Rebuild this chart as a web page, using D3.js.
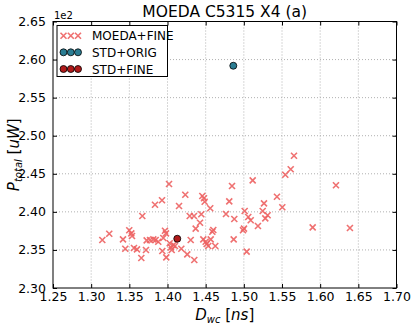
<!DOCTYPE html>
<html>
<head>
<meta charset="utf-8">
<script src="https://cdn.jsdelivr.net/npm/d3@7"></script>
<style>
  body { margin: 0; background: #fff; }
  text { font-family: "DejaVu Sans", sans-serif; }
</style>
</head>
<body>
<svg id="chart" width="415" height="325"></svg>
<script>
// data (Dwc in ns, Ptotal in uW)
const moedaX = [1.3146, 1.3237, 1.3417, 1.3447, 1.3499, 1.3526, 1.3535, 1.3561, 1.3600, 1.3657,
  1.3670, 1.3718, 1.3727, 1.3771, 1.3814, 1.3836, 1.3845, 1.3879, 1.3928, 1.3932,
  1.3945, 1.3967, 1.3980, 1.3984, 1.4020, 1.4029, 1.4046, 1.4055, 1.4076, 1.4098,
  1.4181, 1.4151, 1.4233, 1.4259, 1.4291, 1.4304, 1.4347, 1.4351, 1.4369, 1.4426,
  1.4443, 1.4456, 1.4478, 1.4487, 1.4469, 1.4500, 1.4513, 1.4534, 1.4560, 1.4566,
  1.4587, 1.4600, 1.4626, 1.4766, 1.4809, 1.5657, 1.5614, 1.5543, 1.5116, 1.4845,
  1.6207, 1.5434, 1.5264, 1.5504, 1.5011, 1.5247, 1.5312, 1.5058, 1.4875, 1.5090,
  1.5281, 1.5185, 1.5902, 1.6390, 1.5002, 1.4989, 1.4867, 1.5037]
const moedaY = [236.30, 237.13, 236.39, 235.16, 237.58, 237.18, 236.83, 235.25, 235.08, 233.94,
  239.45, 234.99, 236.26, 236.30, 236.39, 240.94, 236.30, 236.08, 241.52, 234.86,
  236.57, 237.52, 237.18, 234.03, 243.66, 235.87, 235.34, 234.99, 235.64, 235.51,
  235.16, 240.77, 242.25, 234.42, 239.45, 236.30, 239.45, 233.68, 237.79, 238.57,
  239.68, 242.08, 241.78, 241.33, 236.39, 236.08, 235.78, 235.51, 240.47, 236.39,
  237.39, 237.62, 235.51, 239.72, 241.38, 247.37, 245.59, 244.88, 244.14, 243.39,
  243.49, 241.99, 241.12, 240.60, 240.11, 240.11, 239.55, 239.32, 239.06, 238.89,
  239.15, 238.14, 237.97, 237.88, 237.79, 237.58, 236.39, 234.77]
const stdOrigX = [1.4862]
const stdOrigY = [259.19]
const stdFineX = [1.4128]
const stdFineY = [236.47]

const xTicks = [1.25, 1.30, 1.35, 1.40, 1.45, 1.50, 1.55, 1.60, 1.65, 1.70]
const yTicks = [230, 235, 240, 245, 250, 255, 260, 265]
const legendNames = ['MOEDA+FINE', 'STD+ORIG', 'STD+FINE']

const svg = d3.select('#chart')
const mLeft = 53, mRight = 396.5, mTop = 21.5, mBottom = 288

const x = d3.scaleLinear().domain([1.25, 1.70]).range([mLeft, mRight])
const y = d3.scaleLinear().domain([230, 265]).range([mBottom, mTop])

// grid (dotted, like old matplotlib)
const grid = svg.append('g')
grid.selectAll('line.vx').data(xTicks.slice(1, -1)).enter().append('line')
  .attr('x1', d => x(d)).attr('x2', d => x(d))
  .attr('y1', mTop).attr('y2', mBottom)
  .attr('stroke', '#b0b0b0').attr('stroke-width', 1).attr('stroke-dasharray', '1,2')
grid.selectAll('line.hy').data(yTicks.slice(1, -1)).enter().append('line')
  .attr('y1', d => y(d)).attr('y2', d => y(d))
  .attr('x1', mLeft).attr('x2', mRight)
  .attr('stroke', '#b0b0b0').attr('stroke-width', 1).attr('stroke-dasharray', '1,2')

// axes, ticks inside on all sides
const fmtX = d3.format('.2f')
const fmtY = d => (d / 100).toFixed(2)
svg.append('g').attr('transform', `translate(0,${mBottom})`)
  .call(d3.axisBottom(x).tickValues(xTicks).tickFormat(fmtX).tickSizeInner(-4).tickSizeOuter(0).tickPadding(4))
svg.append('g').attr('transform', `translate(0,${mTop})`)
  .call(d3.axisTop(x).tickValues(xTicks).tickFormat('').tickSizeInner(-4).tickSizeOuter(0))
svg.append('g').attr('transform', `translate(${mLeft},0)`)
  .call(d3.axisLeft(y).tickValues(yTicks).tickFormat(fmtY).tickSizeInner(-4).tickSizeOuter(0).tickPadding(7))
svg.append('g').attr('transform', `translate(${mRight},0)`)
  .call(d3.axisRight(y).tickValues(yTicks).tickFormat('').tickSizeInner(-4).tickSizeOuter(0))
svg.selectAll('.domain').remove()
svg.selectAll('.tick text').attr('font-size', 12.5).attr('fill', '#000')
  .attr('font-family', '"DejaVu Sans", sans-serif')
svg.selectAll('.tick line').attr('stroke', '#000')

// frame
svg.append('rect').attr('x', mLeft).attr('y', mTop)
  .attr('width', mRight - mLeft).attr('height', mBottom - mTop)
  .attr('fill', 'none').attr('stroke', '#000').attr('stroke-width', 1)

// offset text
svg.append('text').attr('x', mLeft + 1).attr('y', mTop - 3)
  .attr('font-size', 10).text('1e2')

// marks
const crossColor = 'rgb(238,98,98)'
function cross(g, cx, cy, s) {
  g.append('path')
    .attr('d', `M${cx - s},${cy - s}L${cx + s},${cy + s}M${cx - s},${cy + s}L${cx + s},${cy - s}`)
    .attr('stroke', crossColor).attr('stroke-width', 1.6).attr('opacity', 0.9)
}
const marks = svg.append('g')
moedaX.forEach((d, i) => cross(marks, x(d), y(moedaY[i]), 3))

svg.append('g').selectAll('circle').data(stdOrigX).enter().append('circle')
  .attr('cx', d => x(d)).attr('cy', (d, i) => y(stdOrigY[i])).attr('r', 3.5)
  .attr('fill', '#2b7d93').attr('stroke', '#000').attr('stroke-width', 0.8)
svg.append('g').selectAll('circle').data(stdFineX).enter().append('circle')
  .attr('cx', d => x(d)).attr('cy', (d, i) => y(stdFineY[i])).attr('r', 3.5)
  .attr('fill', '#b01a1a').attr('stroke', '#000').attr('stroke-width', 0.8)

// legend
const lg = svg.append('g')
lg.append('rect').attr('x', 57).attr('y', 25.5).attr('width', 110.5).attr('height', 51)
  .attr('fill', '#fff').attr('stroke', '#000').attr('stroke-width', 1)
const rowY = [35.7, 52.3, 69]
const mx = [63.5, 70.8, 78]
mx.forEach(m => cross(lg, m, rowY[0], 3))
mx.forEach(m => lg.append('circle').attr('cx', m).attr('cy', rowY[1]).attr('r', 3.5)
  .attr('fill', '#2b7d93').attr('stroke', '#000').attr('stroke-width', 0.8))
mx.forEach(m => lg.append('circle').attr('cx', m).attr('cy', rowY[2]).attr('r', 3.5)
  .attr('fill', '#b01a1a').attr('stroke', '#000').attr('stroke-width', 0.8))
legendNames.forEach((n, i) => {
  lg.append('text').attr('x', 92).attr('y', rowY[i] + 4.5)
    .attr('font-size', 12).text(n)
})

// title
svg.append('text').attr('x', (mLeft + mRight) / 2).attr('y', 17)
  .attr('text-anchor', 'middle').attr('font-size', 15.5).text('MOEDA C5315 X4 (a)')

// axis labels (mathtext look)
const serif = '"DejaVu Serif", serif'
const xl = svg.append('text').attr('x', (mLeft + mRight) / 2).attr('y', 320)
  .attr('text-anchor', 'middle').attr('font-family', serif).attr('font-size', 15)
xl.append('tspan').attr('font-style', 'italic').text('D')
xl.append('tspan').attr('font-style', 'italic').attr('font-size', 10).attr('dy', 3).text('wc')
xl.append('tspan').attr('dy', -3).text(' [')
xl.append('tspan').attr('font-style', 'italic').text('ns')
xl.append('tspan').text(']')

const yl = svg.append('text').attr('transform', `translate(19,${(mTop + mBottom) / 2}) rotate(-90)`)
  .attr('text-anchor', 'middle').attr('font-family', serif).attr('font-size', 15)
yl.append('tspan').attr('font-style', 'italic').text('P')
yl.append('tspan').attr('font-style', 'italic').attr('font-size', 10).attr('dy', 3).text('total')
yl.append('tspan').attr('dy', -3).text(' [')
yl.append('tspan').attr('font-style', 'italic').text('uW')
yl.append('tspan').text(']')
</script>
</body>
</html>
